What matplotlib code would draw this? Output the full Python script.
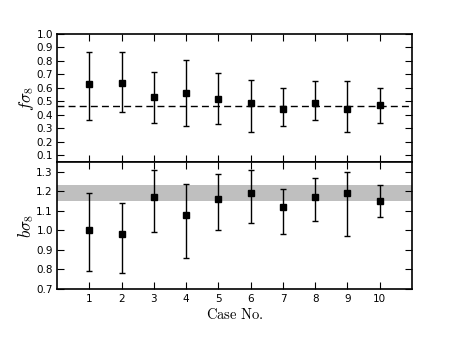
import matplotlib
matplotlib.use('Agg')
import matplotlib.pyplot as plt
import numpy as np

# Values
cases = [1, 2, 3, 4, 5, 6, 7, 8, 9, 10]
fs8 = [0.63, 0.64, 0.53, 0.56, 0.52, 0.49, 0.44, 0.49, 0.44, 0.47]
fs8_hi = [0.87, 0.87, 0.72, 0.81, 0.71, 0.66, 0.60, 0.65, 0.65, 0.60]
fs8_lo = [0.36, 0.42, 0.34, 0.32, 0.33, 0.27, 0.32, 0.36, 0.27, 0.34]
fs8_fid = 0.467

bs8 = [1.00, 0.98, 1.17, 1.08, 1.16, 1.19, 1.12, 1.17, 1.19, 1.15]
bs8_hi = [1.19, 1.14, 1.31, 1.24, 1.29, 1.31, 1.21, 1.27, 1.30, 1.23]
bs8_lo = [0.79, 0.78, 0.99, 0.86, 1.00, 1.04, 0.98, 1.05, 0.97, 1.07]
bs8_band = (1.15, 1.23)

plt.rcParams['mathtext.fontset'] = 'cm'
plt.rcParams['xtick.direction'] = 'in'
plt.rcParams['ytick.direction'] = 'in'
plt.rcParams['xtick.major.size'] = 5
plt.rcParams['ytick.major.size'] = 5
plt.rcParams['xtick.major.pad'] = 3.5
plt.rcParams['ytick.major.pad'] = 3

fig = plt.figure(figsize=(4.58, 3.45), dpi=100)
ax1 = fig.add_axes([0.1245, 0.5304, 0.7751, 0.371])
ax2 = fig.add_axes([0.1245, 0.1623, 0.7751, 0.3681])

x = np.array(cases)


def draw_panel(ax, y, hi, lo):
    y = np.array(y)
    err = [y - np.array(lo), np.array(hi) - y]
    ax.errorbar(x, y, yerr=err, fmt='s', color='black', ms=4.5,
                ecolor='black', elinewidth=1, capsize=2.5, capthick=1,
                zorder=3)


draw_panel(ax1, fs8, fs8_hi, fs8_lo)
ax1.axhline(fs8_fid, color='black', ls='--', lw=1, dashes=(5, 3))
ax1.set_xlim(0, 11)
ax1.set_ylim(0.05, 1.0)
ax1.set_yticks(np.arange(0.1, 1.01, 0.1))
ax1.set_xticks(cases)
ax1.tick_params(labelbottom=False, top=True, right=True, labelsize=7.5)
ax1.set_ylabel(r'$f\sigma_8$', fontsize=12)

ax2.axhspan(bs8_band[0], bs8_band[1], color='#bfbfbf', lw=0, zorder=1)
draw_panel(ax2, bs8, bs8_hi, bs8_lo)
ax2.set_xlim(0, 11)
ax2.set_ylim(0.7, 1.35)
ax2.set_yticks(np.arange(0.7, 1.31, 0.1))
ax2.set_xticks(cases)
ax2.tick_params(top=True, right=True, labelsize=7.5)
ax2.set_ylabel(r'$b\sigma_8$', fontsize=12)
ax2.set_xlabel(r'$\mathrm{Case\ No.}$', fontsize=10.5, labelpad=2)

for ax in (ax1, ax2):
    for s in ax.spines.values():
        s.set_linewidth(1.2)
    ax.yaxis.set_label_coords(-0.058, 0.5)

fig.savefig('out.png', dpi=100)
